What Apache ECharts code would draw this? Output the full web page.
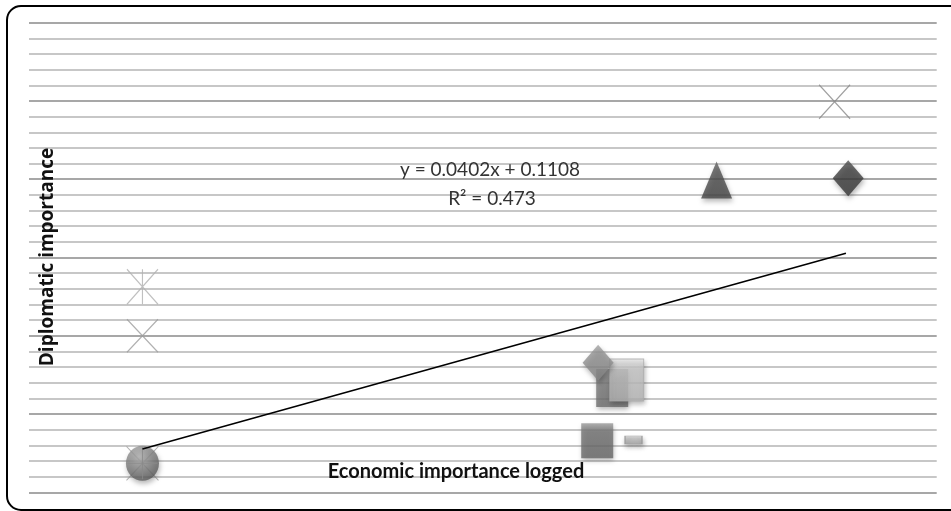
<!DOCTYPE html>
<html>
<head>
<meta charset="utf-8">
<script src="https://cdn.jsdelivr.net/npm/echarts@6/dist/echarts.min.js"></script>
<style>
html,body{margin:0;padding:0;background:#fff;}
#chart{width:951px;height:511px;}
</style>
</head>
<body>
<div id="chart"></div>
<script>
// Values (x = economic importance logged, y = diplomatic importance)
const ballPoint = [[-2.0, 0.0185]];
const crossUnderBall = [[-2.0, 0.0185]];
const plusOnBall = [[-2.0, 0.0185]];
const asteriskPoint = [[-2.0, 0.1313]];
const crossLeftPoint = [[-2.0, 0.1000]];
const crossTopPoint = [[1.05, 0.2495]];
const triangleDarkPoint = [[0.53, 0.1995]];
const diamondDarkPoint = [[1.11, 0.2006]];
const squareMidPoint = [[0.07, 0.0666]];
const squareLightPoint = [[0.134, 0.0717]];
const diamondLightPoint = [[0.008, 0.0828]];
const squareDarkPoint = [[0.004, 0.0329]];
const dashPoint = [[0.164, 0.0334]];
const trendLine = [[-2.0, 0.0276], [1.10, 0.1527]];
const equationText = 'y = 0.0402x + 0.1108';
const r2Text = 'R\u00B2 = 0.473';
const xTitle = 'Economic importance logged';
const yTitle = 'Diplomatic importance';

const chart = echarts.init(document.getElementById('chart'));
const shadow = {shadowBlur: 5, shadowColor: 'rgba(0,0,0,0.35)', shadowOffsetX: 1, shadowOffsetY: 3};
const xPath = 'path://M0,0L10,10M10,0L0,10';
const asterPath = 'path://M0,0L10,10M10,0L0,10M5,0L5,10';
const plusPath = 'path://M5,0L5,10M0,5L10,5';
function lin(c1, c2, c3) {
  return new echarts.graphic.LinearGradient(0, 0, 0, 1, [
    {offset: 0, color: c1}, {offset: 0.25, color: c2}, {offset: 1, color: c3}
  ]);
}
function sc(name, data, symbol, size, itemStyle, z) {
  return {name, type: 'scatter', data, symbol, symbolSize: size, itemStyle, z: z || 3,
    emphasis: {disabled: true}, silent: true, animation: false};
}

chart.setOption({
  animation: false,
  grid: {left: 29, right: 14.3, top: 22.7, bottom: 18.7, containLabel: false},
  xAxis: {type: 'value', min: -2.5, max: 1.5, show: true,
    axisLine: {show: false}, axisTick: {show: false}, axisLabel: {show: false}, splitLine: {show: false}},
  yAxis: {type: 'value', min: 0, max: 0.3, interval: 0.01,
    axisLine: {show: false}, axisTick: {show: false}, axisLabel: {show: false},
    splitLine: {show: true, lineStyle: {width: 1.6,
      color: ['#8a8a8a', '#b4b4b4', '#b4b4b4', '#b4b4b4', '#b4b4b4']}}},
  series: [
    sc('crossUnderBall', crossUnderBall, xPath, [32, 34], {color: 'none', borderColor: '#a0a0a0', borderWidth: 1}, 2),
    sc('ball', ballPoint, 'circle', [33, 35], Object.assign({
      color: new echarts.graphic.RadialGradient(0.4, 0.3, 0.75, [
        {offset: 0, color: '#b4b4b4'}, {offset: 1, color: '#555555'}])}, shadow), 3),
    sc('plusOnBall', plusOnBall, plusPath, [30, 32], {color: 'none', borderColor: '#888', borderWidth: 1}, 4),
    sc('asterisk', asteriskPoint, asterPath, [31, 35], {color: 'none', borderColor: '#b0b0b0', borderWidth: 1.2}),
    sc('crossLeft', crossLeftPoint, xPath, [31, 33], {color: 'none', borderColor: '#9c9c9c', borderWidth: 1.2}),
    sc('crossTop', crossTopPoint, xPath, [31, 34], {color: 'none', borderColor: '#888', borderWidth: 1.2}),
    sc('triangle', triangleDarkPoint, 'triangle', [31, 37], Object.assign({color: lin('#666', '#515151', '#454545')}, shadow)),
    sc('diamondDark', diamondDarkPoint, 'diamond', [31, 36], Object.assign({color: lin('#555', '#404040', '#363636')}, shadow)),
    sc('squareMid', squareMidPoint, 'rect', [32, 38], Object.assign({color: lin('#8e8e8e', '#7c7c7c', '#6e6e6e')}, shadow), 3),
    sc('squareLight', squareLightPoint, 'rect', [34, 42], Object.assign({color: lin('#eeeeee', '#c8c8c8', '#b8b8b8'), borderColor: '#a8a8a8', borderWidth: 1}, shadow), 4),
    sc('diamondLight', diamondLightPoint, 'diamond', [31, 36], Object.assign({color: lin('#a4a4a4', '#929292', '#868686')}, shadow), 5),
    sc('squareDark', squareDarkPoint, 'rect', [32, 35], Object.assign({color: lin('#9a9a9a', '#737373', '#686868')}, shadow)),
    sc('dash', dashPoint, 'rect', [17, 8], Object.assign({color: lin('#e0e0e0', '#c0c0c0', '#a8a8a8'), borderColor: '#999', borderWidth: 1}, shadow)),
    {name: 'trend', type: 'line', data: trendLine, symbol: 'none', z: 6, silent: true,
      lineStyle: {color: '#000', width: 1.6}}
  ],
  graphic: [
    {type: 'rect', shape: {x: 7, y: 6, width: 980, height: 504, r: 14}, z: 100, silent: true,
      style: {fill: 'none', stroke: '#000', lineWidth: 2}},
    {type: 'text', x: 490, y: 170, z: 100, silent: true,
      style: {text: equationText, font: '19px Lato', fill: '#333', textAlign: 'center', textVerticalAlign: 'middle'}},
    {type: 'text', x: 492, y: 199, z: 100, silent: true,
      style: {text: r2Text, font: '19px Lato', fill: '#333', textAlign: 'center', textVerticalAlign: 'middle'}},
    {type: 'text', x: 456, y: 472, z: 100, silent: true,
      style: {text: xTitle, font: 'bold 20px Lato', fill: '#111', textAlign: 'center', textVerticalAlign: 'middle'}},
    {type: 'text', x: 48, y: 257, rotation: Math.PI / 2, z: 100, silent: true,
      style: {text: yTitle, font: 'bold 19px "Open Sans"', fill: '#111', textAlign: 'center', textVerticalAlign: 'middle'}}
  ]
});
</script>
</body>
</html>
